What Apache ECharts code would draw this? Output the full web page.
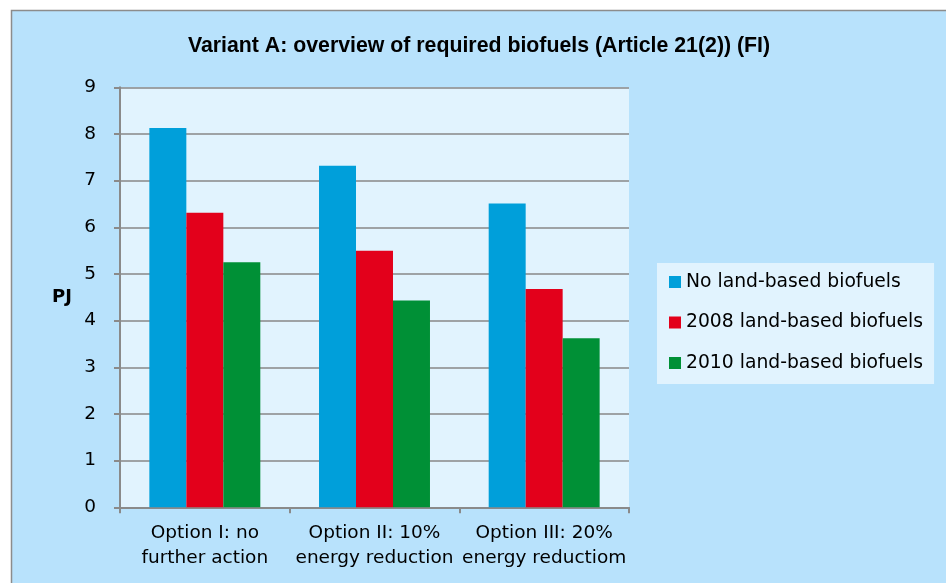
<!DOCTYPE html>
<html>
<head>
<meta charset="utf-8">
<script src="https://cdn.jsdelivr.net/npm/echarts@6/dist/echarts.min.js"></script>
<style>
  html, body { margin: 0; padding: 0; background: #fff; }
  #chart { width: 946px; height: 583px; }
</style>
</head>
<body>
<div id="chart"></div>
<script>
var categories = ['Option I: no\nfurther action', 'Option II: 10%\nenergy reduction', 'Option III: 20%\nenergy reductiom'];
var seriesNames = ['No land-based biofuels', '2008 land-based biofuels', '2010 land-based biofuels'];
var noLandBased = [8.13, 7.32, 6.51];
var landBased2008 = [6.31, 5.50, 4.68];
var landBased2010 = [5.25, 4.43, 3.62];
var colors = ['#009fda', '#e3001b', '#009036'];

var chart = echarts.init(document.getElementById('chart'));

var option = {
  backgroundColor: '#ffffff',
  color: colors,
  graphic: [{
    type: 'rect',
    z: -100,
    shape: { x: 11.5, y: 10.5, width: 1000, height: 1000 },
    style: { fill: '#b8e2fc', stroke: '#8c8c8c', lineWidth: 1.5 }
  }],
  title: {
    text: 'Variant A: overview of required biofuels (Article 21(2)) (FI)',
    left: 474,
    top: 31,
    textAlign: 'center',
    textStyle: {
      fontFamily: 'Liberation Sans',
      fontSize: 21.3,
      fontWeight: 'bold',
      color: '#000'
    }
  },
  legend: {
    data: seriesNames,
    orient: 'vertical',
    left: 657,
    top: 263,
    padding: [8, 11, 10, 12],
    itemGap: 18.5,
    itemWidth: 12,
    itemHeight: 12,
    icon: 'rect',
    backgroundColor: '#e1f3fe',
    textStyle: {
      fontFamily: 'DejaVu Sans',
      fontSize: 18.75,
      lineHeight: 22,
      color: '#000'
    }
  },
  grid: {
    left: 120,
    right: 317,
    top: 87.3,
    bottom: 75.7,
    show: true,
    backgroundColor: '#e1f3fe',
    borderWidth: 0
  },
  xAxis: {
    type: 'category',
    data: categories,
    axisLine: { lineStyle: { color: '#8a8a8a', width: 2 } },
    axisTick: { show: true, length: 6, lineStyle: { color: '#8a8a8a', width: 2 } },
    axisLabel: {
      interval: 0,
      margin: 13,
      fontFamily: 'DejaVu Sans',
      fontSize: 18.5,
      lineHeight: 25,
      color: '#000'
    }
  },
  yAxis: {
    type: 'value',
    min: 0,
    max: 9,
    interval: 1,
    name: 'PJ',
    nameLocation: 'middle',
    nameRotate: 0,
    nameGap: 48,
    nameTextStyle: {
      fontFamily: 'DejaVu Sans',
      fontSize: 18,
      fontWeight: 'bold',
      color: '#000'
    },
    axisLine: { show: true, lineStyle: { color: '#8a8a8a', width: 2 } },
    axisTick: { show: true, length: 6, lineStyle: { color: '#8a8a8a', width: 2 } },
    axisLabel: {
      margin: 24,
      fontFamily: 'DejaVu Sans',
      fontSize: 18.5,
      color: '#000'
    },
    splitLine: { lineStyle: { color: '#878787', width: 1.5 } }
  },
  series: [{
    name: seriesNames[0],
    type: 'bar',
    data: noLandBased,
    barGap: '0%',
    barCategoryGap: '34.6%'
  }, {
    name: seriesNames[1],
    type: 'bar',
    data: landBased2008,
    barGap: '0%',
    barCategoryGap: '34.6%'
  }, {
    name: seriesNames[2],
    type: 'bar',
    data: landBased2010,
    barGap: '0%',
    barCategoryGap: '34.6%'
  }]
};

chart.setOption(option);
</script>
</body>
</html>
